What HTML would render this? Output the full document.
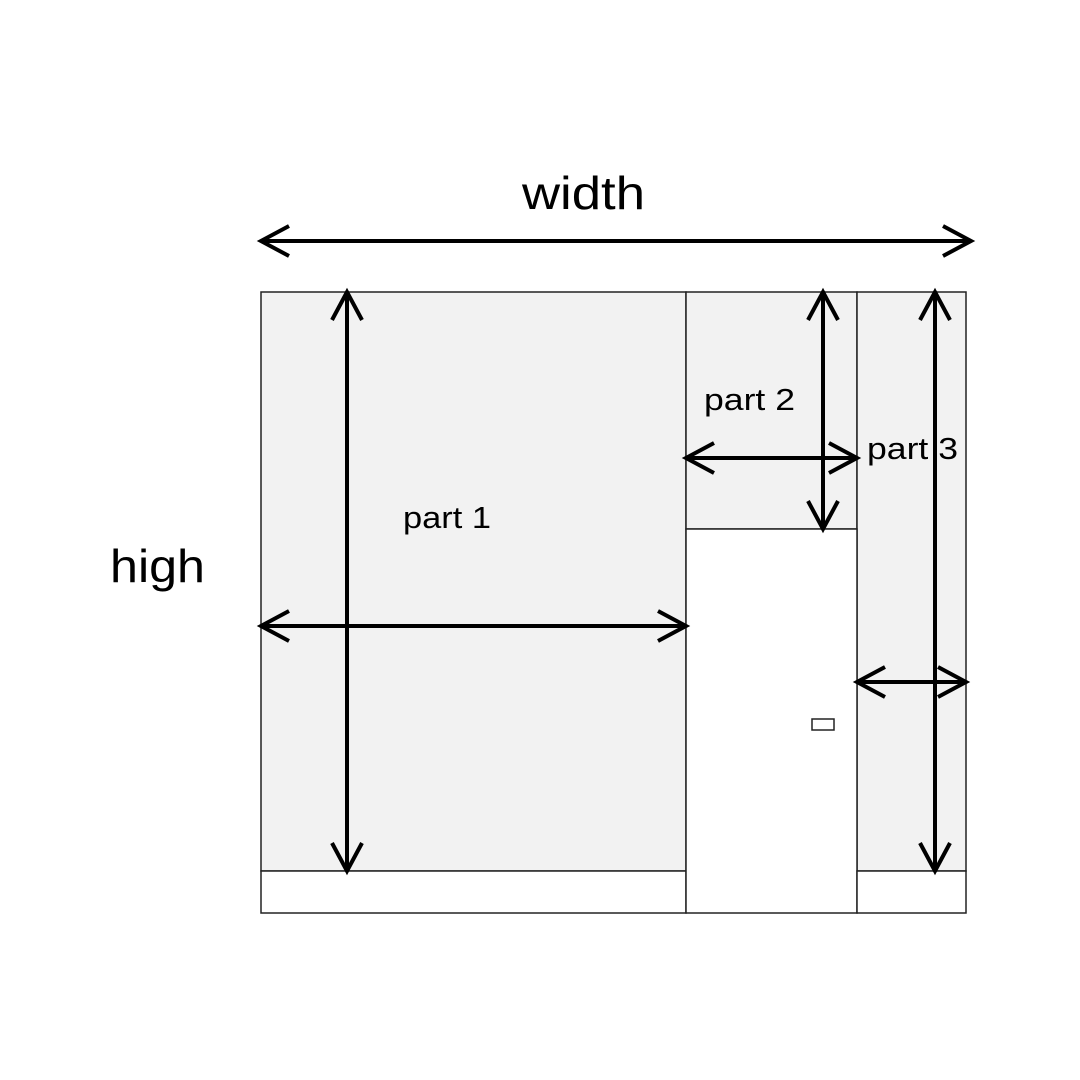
<!DOCTYPE html>
<html><head><style>body{margin:0;background:#fff}svg{display:block}</style></head><body>
<svg width="1080" height="1080" viewBox="0 0 1080 1080" xmlns="http://www.w3.org/2000/svg" font-family="Liberation Sans, DejaVu Sans, sans-serif">
<rect width="1080" height="1080" fill="#fff"/>
<g stroke="#222" stroke-width="1.5">
<rect x="261" y="292" width="425" height="579" fill="#f2f2f2"/>
<rect x="686" y="292" width="171" height="237" fill="#f2f2f2"/>
<rect x="857" y="292" width="109" height="579" fill="#f2f2f2"/>
<rect x="261" y="871" width="425" height="42" fill="#fff"/>
<rect x="686" y="529" width="171" height="384" fill="#fff"/>
<rect x="857" y="871" width="109" height="42" fill="#fff"/>
<rect x="812" y="719" width="22" height="11" fill="#fff"/>
</g>
<g stroke="#000" stroke-width="4" fill="none" stroke-linecap="butt">
<path d="M261 241H971M289 226L261 241L289 256M943 226L971 241L943 256"/>
<path d="M347 292V871M332 320L347 292L362 320M332 843L347 871L362 843"/>
<path d="M261 626H686M289 611L261 626L289 641M658 611L686 626L658 641"/>
<path d="M823 292V529M808 320L823 292L838 320M808 501L823 529L838 501"/>
<path d="M686 458H857M714 443L686 458L714 473M829 443L857 458L829 473"/>
<path d="M935 292V871M920 320L935 292L950 320M920 843L935 871L950 843"/>
<path d="M857 682H966M885 667L857 682L885 697M938 667L966 682L938 697"/>
</g>
<g fill="#000">
<text x="522" y="209" font-size="46" textLength="123" lengthAdjust="spacingAndGlyphs">width</text>
<text x="110" y="582" font-size="46" textLength="95" lengthAdjust="spacingAndGlyphs">high</text>
<text x="403" y="528" font-size="31" textLength="88" lengthAdjust="spacingAndGlyphs">part 1</text>
<text x="704" y="410" font-size="31" textLength="91" lengthAdjust="spacingAndGlyphs">part 2</text>
<text x="867" y="459" font-size="31" textLength="91" lengthAdjust="spacingAndGlyphs">part 3</text>
</g>
</svg>
</body></html>
